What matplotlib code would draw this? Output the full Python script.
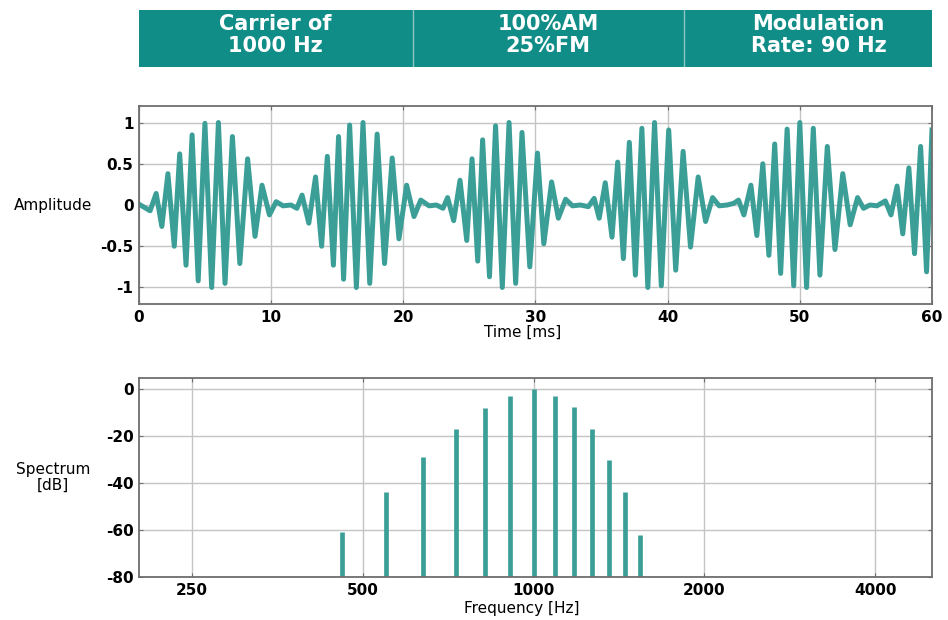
import matplotlib
matplotlib.use('Agg')
import matplotlib.pyplot as plt

# header cells
header_labels = ['Carrier of\n1000 Hz', '100%AM\n25%FM', 'Modulation\nRate: 90 Hz']

# waveform extrema (time in ms, amplitude)
wave_t = [0.00, 0.84, 1.30, 1.73, 2.19, 2.67, 3.08, 3.56, 4.02, 4.48, 4.99, 5.50,
          6.01, 6.51, 7.07, 7.63, 8.22, 8.78, 9.31, 9.87, 10.38, 10.90, 11.50, 11.95,
          12.34, 12.85, 13.36, 13.82, 14.25, 14.71, 15.10, 15.48, 15.94, 16.45, 16.95,
          17.46, 18.02, 18.58, 19.16, 19.67, 20.25, 20.81, 21.32, 21.95, 22.50, 23.00,
          23.35, 23.81, 24.29, 24.80, 25.20, 25.63, 26.00, 26.52, 26.98, 27.49, 28.00,
          28.50, 28.98, 29.57, 30.15, 30.63, 31.22, 31.73, 32.28, 32.80, 33.40, 34.00,
          34.44, 34.82, 35.28, 35.79, 36.22, 36.65, 37.10, 37.56, 38.05, 38.50, 39.01,
          39.52, 40.08, 40.61, 41.17, 41.73, 42.31, 42.87, 43.40, 43.90, 44.50, 45.00,
          45.36, 45.77, 46.30, 46.75, 47.20, 47.66, 48.10, 48.55, 49.04, 49.54, 50.00,
          50.51, 51.02, 51.52, 52.08, 52.66, 53.25, 53.81, 54.37, 54.82, 55.30, 55.84,
          56.47, 56.90, 57.36, 57.79, 58.25, 58.68, 59.14, 59.59, 60.00]
wave_amp = [0.01, -0.07, 0.14, -0.26, 0.38, -0.50, 0.62, -0.73, 0.85, -0.92, 0.99, -1.00,
            1.00, -0.95, 0.83, -0.71, 0.56, -0.38, 0.24, -0.12, 0.04, -0.01, 0.00, -0.04,
            0.12, -0.22, 0.34, -0.50, 0.59, -0.73, 0.83, -0.90, 0.97, -1.00, 1.00,
            -0.95, 0.86, -0.71, 0.57, -0.41, 0.24, -0.14, 0.06, -0.01, 0.00, -0.04,
            0.09, -0.19, 0.30, -0.43, 0.56, -0.68, 0.79, -0.87, 0.96, -1.00, 1.00,
            -0.95, 0.88, -0.75, 0.63, -0.47, 0.28, -0.16, 0.07, -0.01, 0.00, -0.02,
            0.08, -0.16, 0.27, -0.39, 0.52, -0.65, 0.76, -0.85, 0.93, -1.00, 1.00,
            -0.98, 0.91, -0.79, 0.65, -0.51, 0.34, -0.20, 0.09, -0.01, 0.00, 0.02,
            0.06, -0.12, 0.24, -0.37, 0.50, -0.61, 0.74, -0.83, 0.92, -0.98, 1.00,
            -1.00, 0.93, -0.85, 0.71, -0.54, 0.38, -0.24, 0.09, -0.04, 0.00, -0.01,
            0.05, -0.12, 0.23, -0.35, 0.45, -0.59, 0.71, -0.81, 0.91]

# spectral lines
spec_freq = [460, 550, 640, 730, 820, 910, 1000, 1090, 1180, 1270, 1360, 1450, 1540]
spec_db = [-61, -44, -29, -17, -8, -3, 0, -3, -7.5, -17, -30, -44, -62]

time_ticks = [0, 10, 20, 30, 40, 50, 60]
amp_ticks = [-1, -0.5, 0, 0.5, 1]
amp_ticklabels = ['-1', '-0.5', '0', '0.5', '1']
freq_ticks = [250, 500, 1000, 2000, 4000]
db_ticks = [-80, -60, -40, -20, 0]

teal_box = '#118d88'
teal_line = '#3c9f97'
grid_col = '#c4c4c4'
spine_col = '#6e6e6e'

plt.rcParams['font.family'] = 'DejaVu Sans'
plt.rcParams['axes.unicode_minus'] = False

fig = plt.figure(figsize=(9.48, 6.2), dpi=100)

# header table
axh = fig.add_axes([0.1466, 0.892, 0.8365, 0.092])
axh.set_xlim(0, 1)
axh.set_ylim(0, 1)
axh.set_facecolor(teal_box)
axh.set_xticks([])
axh.set_yticks([])
for s in axh.spines.values():
    s.set_visible(False)
edges = [0, 0.3455, 0.687, 1.0]
for x in edges[1:-1]:
    axh.axvline(x, color='#8cc6c2', lw=1)
centers = [0.172, 0.516, 0.857]
for cx, lab in zip(centers, header_labels):
    axh.text(cx, 0.56, lab, ha='center', va='center', color='white',
             fontsize=15, fontweight='bold', linespacing=1.15)


def style_axes(ax):
    ax.grid(True, color=grid_col, lw=1)
    ax.set_axisbelow(True)
    for s in ax.spines.values():
        s.set_color(spine_col)
        s.set_linewidth(1.3)
    ax.tick_params(direction='in', length=3, color=spine_col, top=True, right=True,
                   labelsize=11, pad=4)
    for lab in ax.get_xticklabels() + ax.get_yticklabels():
        lab.set_fontweight('bold')


# waveform
ax1 = fig.add_axes([0.1466, 0.5097, 0.8365, 0.3193])
ax1.plot(wave_t, wave_amp, color=teal_line, lw=3.6, solid_joinstyle='round')
ax1.set_xlim(0, 60)
ax1.set_ylim(-1.2, 1.2)
ax1.set_xticks(time_ticks)
ax1.set_yticks(amp_ticks)
ax1.set_yticklabels(amp_ticklabels)
style_axes(ax1)
ax1.set_xlabel('Time [ms]', fontsize=11)
ax1.xaxis.set_label_coords(0.484, -0.105)
ax1.set_ylabel('Amplitude', fontsize=11, rotation=0, ha='center', va='center')
ax1.yaxis.set_label_coords(-0.108, 0.5)

# spectrum
ax2 = fig.add_axes([0.1466, 0.0694, 0.8365, 0.3209])
ax2.vlines(spec_freq, -80, spec_db, color=teal_line, lw=3.4)
ax2.set_xscale('log')
ax2.set_xlim(202, 5030)
ax2.set_ylim(-80, 4.7)
ax2.set_xticks(freq_ticks)
ax2.set_xticklabels([str(f) for f in freq_ticks])
ax2.minorticks_off()
ax2.set_yticks(db_ticks)
ax2.set_yticklabels([str(d) for d in db_ticks])
style_axes(ax2)
ax2.set_xlabel('Frequency [Hz]', fontsize=11)
ax2.xaxis.set_label_coords(0.483, -0.12)
ax2.set_ylabel('Spectrum\n[dB]', fontsize=11, rotation=0, ha='center', va='center',
               linespacing=1.1)
ax2.yaxis.set_label_coords(-0.108, 0.5)

fig.savefig('out.png', dpi=100)
